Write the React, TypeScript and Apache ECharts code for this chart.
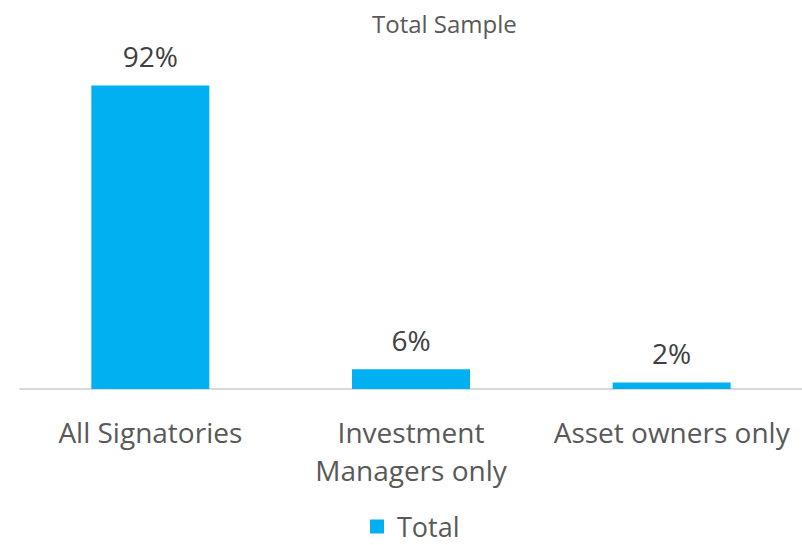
import React, { useEffect, useRef } from "react";
import * as echarts from "echarts";

const categories = ["All Signatories", "Investment\nManagers only", "Asset owners only"];
const totalValues = [92, 6, 2];
const seriesName = "Total";
const titleText = "Total Sample";

export default function App() {
  const ref = useRef<HTMLDivElement>(null);
  useEffect(() => {
    if (!ref.current) return;
    const chart = echarts.init(ref.current, null, { renderer: "svg" });
    const font = "'Open Sans', 'Liberation Sans', sans-serif";
    chart.setOption({
      animation: false,
      backgroundColor: "#ffffff",
      title: {
        text: titleText,
        left: 367,
        top: 6,
        textStyle: { fontFamily: font, fontSize: 24, fontWeight: "normal", color: "#595959" },
      },
      legend: {
        data: [seriesName],
        left: 370,
        top: 513,
        padding: 0,
        icon: "rect",
        itemWidth: 14,
        itemHeight: 14,
        itemGap: 6,
        textStyle: { fontFamily: font, fontSize: 27, lineHeight: 27, color: "#595959", padding: [0, 0, 0, 8] },
      },
      grid: { left: 20, right: 0, top: 59, bottom: 156, containLabel: false },
      xAxis: {
        type: "category",
        data: categories,
        axisLine: { show: true, lineStyle: { color: "#d9d9d9", width: 2 } },
        axisTick: { show: false },
        axisLabel: {
          fontFamily: font,
          fontSize: 28,
          color: "#595959",
          lineHeight: 38,
          margin: 24,
          interval: 0,
        },
      },
      yAxis: {
        type: "value",
        min: 0,
        max: 100,
        show: false,
        splitLine: { show: false },
      },
      series: [
        {
          name: seriesName,
          type: "bar",
          data: totalValues,
          barWidth: 118,
          itemStyle: { color: "#00B0F0" },
          label: {
            show: true,
            position: "top",
            distance: 15,
            formatter: "{c}%",
            fontFamily: font,
            fontSize: 28,
            color: "#404040",
          },
        },
      ],
    });
    return () => chart.dispose();
  }, []);
  return (
    <div
      ref={ref}
      style={{ position: "fixed", left: 0, top: 0, width: 802, height: 545 }}
    />
  );
}
